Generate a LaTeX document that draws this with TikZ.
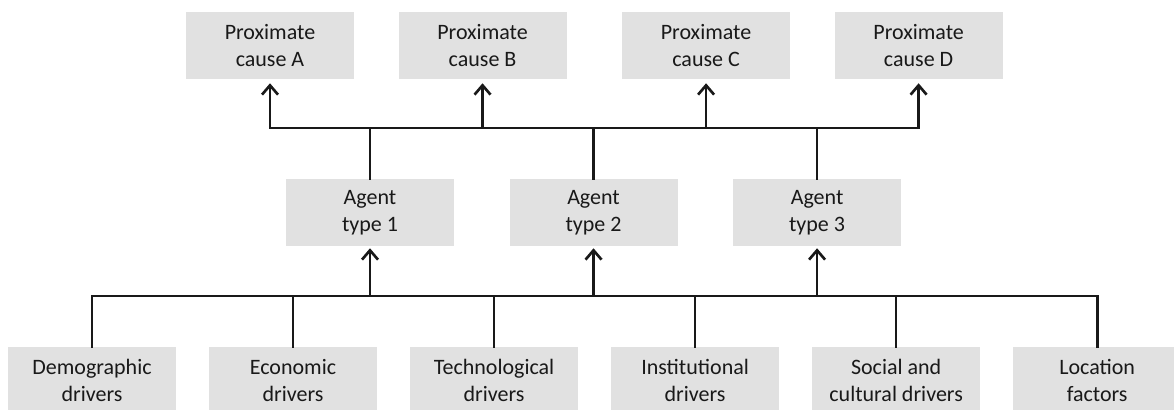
\documentclass[tikz,border=0pt]{standalone}
\usepackage{fontspec}
\setmainfont{Carlito}
\usetikzlibrary{positioning, arrows.meta}
\definecolor{boxgray}{RGB}{225,225,225}

\begin{document}
\begin{tikzpicture}[x=0.75pt, y=0.75pt]
            % Define node styles
            \tikzstyle{box} = [rectangle, fill=boxgray, minimum width=126pt, minimum height=50.25pt, inner sep=0pt, align=center, text=black!90, font=\fontsize{16.5}{20}\selectfont]
            \tikzstyle{link} = [line width=2pt, black!90, line cap=rect]
            \tikzstyle{up} = [link, -{Straight Barb[length=7pt, width=12pt]}]
            
            \useasboundingbox (0,0) rectangle (1174,410);
            
            % Proximate causes (top row)
            \node[box] (p1) at (270,364.5) {Proximate\\cause A};
            \node[box] (p2) [right=33pt of p1] {Proximate\\cause B};
            \node[box] (p3) [right=41.25pt of p2] {Proximate\\cause C};
            \node[box] (p4) [right=33pt of p3] {Proximate\\cause D};
            
            % Agent types (middle row)
            \node[box] (a1) at (370,197.5) {Agent\\type 1};
            \node[box] (a2) [right=41.25pt of a1] {Agent\\type 2};
            \node[box] (a3) [right=41.25pt of a2] {Agent\\type 3};
            
            % Drivers (bottom row)
            \node[box] (d1) at (92,29.5) {Demographic\\drivers};
            \node[box] (d2) [right=24.375pt of d1] {Economic\\drivers};
            \node[box] (d3) [right=24.375pt of d2] {Technological\\drivers};
            \node[box] (d4) [right=24.375pt of d3] {Institutional\\drivers};
            \node[box] (d5) [right=24.375pt of d4] {Social and\\cultural drivers};
            \node[box] (d6) [right=24.375pt of d5] {Location\\factors};
            
            % Heights of the two bus lines
            \coordinate (topbus) at (0,282);
            \coordinate (lowbus) at (0,114);
            
            % Agents up to the proximate causes
            \draw[link] (p1.south |- topbus) -- (p4.south |- topbus);
            \foreach \n in {p1,p2,p3,p4}
                \draw[up] (\n.south |- topbus) -- ([yshift=-3pt]\n.south);
            \foreach \n in {a1,a2,a3}
                \draw[link] (\n.north) -- (\n.north |- topbus);
            
            % Drivers up to the agents
            \draw[link] (d1.north |- lowbus) -- (d6.north |- lowbus);
            \foreach \n in {d1,d2,d3,d4,d5,d6}
                \draw[link] (\n.north) -- (\n.north |- lowbus);
            \foreach \n in {a1,a2,a3}
                \draw[up] (\n.south |- lowbus) -- ([yshift=-1.5pt]\n.south);
            
        \end{tikzpicture}
\end{document}
